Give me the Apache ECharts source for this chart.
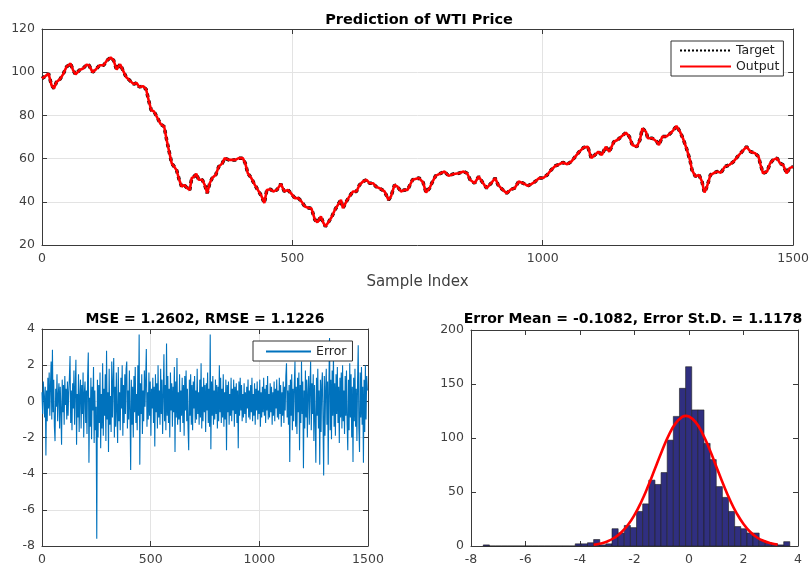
<!DOCTYPE html>
<html><head><meta charset="utf-8">
<script src="https://cdn.jsdelivr.net/npm/echarts/dist/echarts.min.js"></script>
<style>html,body{margin:0;padding:0;background:#fff}#c{width:812px;height:568px}</style>
</head><body><div id="c"></div><script>
// ---- Top panel: WTI price (sample index, value) ----
const priceIdx = [0,6,13,16,19,24,29,36,42,49,57,62,67,75,82,89,94,101,108,115,123,130,137,143,149,156,161,168,176,183,189,194,202,208,213,218,224,231,237,244,249,254,259,264,269,274,279,284,290,295,299,304,308,313,320,325,330,335,340,347,353,360,365,373,380,386,393,401,406,411,418,425,431,438,444,449,456,462,469,477,484,491,497,505,512,518,525,533,538,545,550,557,562,566,573,579,585,591,597,601,608,614,621,628,634,641,648,654,661,667,674,684,692,697,704,710,717,724,730,740,753,761,767,774,779,786,796,804,812,822,832,842,849,855,864,872,880,888,897,905,911,919,928,937,944,952,961,970,978,985,993,1001,1009,1017,1025,1034,1040,1049,1057,1065,1073,1082,1090,1097,1104,1111,1118,1126,1133,1142,1149,1157,1166,1173,1179,1188,1194,1199,1206,1210,1219,1228,1232,1239,1247,1255,1261,1267,1274,1280,1287,1294,1298,1305,1312,1318,1323,1328,1335,1341,1348,1356,1364,1373,1381,1389,1398,1407,1415,1424,1431,1435,1440,1448,1454,1460,1468,1474,1480,1487,1493,1500];
const priceVal = [97.1,98,99.4,99,94,92.5,95.5,96.8,99,102.5,104,101,99,101,101.7,103.5,103.2,100,101.4,103.2,103.2,105.5,106.8,105.5,101.2,103.7,101.2,97.8,96,94.5,95,93.2,93.5,92,87,82.5,81.7,78.6,76,74.8,68.6,63.2,57.8,56.3,54.5,50.2,47,47.8,46.3,45.5,51,51.7,53,50.2,50.2,47.8,44,48.6,51,52.5,56.3,57.8,60.2,59.4,59.4,59.4,60.2,60.2,57.8,53.2,51,47.8,45.5,42.8,39.4,45.5,45.8,44.8,45.5,48.3,44.8,45.5,44,41.7,41.7,40.2,37.8,37.1,37,31.7,30.5,33.2,30.2,28.6,30.9,33.2,36.3,38.6,40.9,37,40.2,42.5,44.8,44.8,47.8,49.4,50.2,48.6,48.6,47,46.3,44.8,40.9,42.5,47.8,47,44.8,45.5,45.5,50.2,51,49,44.3,46.3,48.9,52,53.2,54,52,52.9,53.2,54,53.2,50.2,48.6,51.7,48.9,46.3,48.6,51,47.8,45.8,44,45.8,46.3,49.4,48.6,47.4,48.3,49.4,51,51,52.5,54.8,56.6,57.5,58.2,57.4,58.6,60.9,63.2,65.2,65.5,60.2,61.7,63.2,61.7,65.5,63.2,67.8,68.6,70.2,72,70.2,66.3,65.5,68.6,74,72.5,69.4,69.4,67.8,66.3,70.2,70.2,71.7,73.2,75.1,72.5,69.4,64.8,59.4,54.8,51.7,52.5,49.4,44.3,47,52.5,53.2,54,53.5,56.3,57.1,58.6,60.9,63.2,65.5,63.2,62.5,60.9,57.1,53.2,54,57.8,59.4,60.2,57.8,57.1,53.2,55.6,56.3];

// ---- Bottom-left: prediction error, one value every errStep samples ----
const errStep = 3;
const errVal = [
0.5,-0.7,1.1,0.3,-0.9,0.8,-3.0,0.6,-1.1,1.3,
-0.4,1.6,-0.8,0.9,2.2,-1.0,2.85,-0.6,1.2,-1.4,
-2.2,0.7,-0.3,1.5,-1.1,0.4,1.0,-1.5,0.8,-0.5,
-2.4,1.2,-0.6,0.9,-1.3,1.4,-0.2,0.7,-1.0,1.1,
-0.8,0.5,1.3,2.5,-1.2,0.6,-1.6,1.0,-0.4,1.7,
-1.3,0.8,2.3,-2.4,0.4,-0.9,1.5,-1.7,0.3,1.2,
-1.5,0.9,-0.7,1.6,-2.0,0.5,1.1,-1.2,0.6,-1.8,
1.4,2.7,-3.4,0.2,-1.4,1.3,-2.1,0.8,-0.5,1.9,
-2.3,0.6,-1.6,-0.3,-7.6,1.2,-2.0,0.9,-1.2,1.6,
-2.6,0.4,-1.5,2.1,-1.9,0.7,-0.8,1.5,-2.2,2.8,
-1.0,0.5,-2.8,1.8,-1.3,0.3,-1.7,2.2,-0.9,1.1,
2.4,-2.0,0.8,-1.4,1.6,-0.6,-2.3,1.9,-1.1,0.5,
-1.6,1.3,-0.4,2.0,-1.9,0.9,-1.2,1.5,-0.7,1.8,
2.2,-1.5,0.6,-1.0,1.7,-0.5,-3.8,1.2,-1.3,0.8,
-2.0,1.4,-0.6,1.9,-1.2,0.4,-1.6,2.0,-0.8,3.7,
-3.5,1.0,-0.7,1.5,-1.8,0.6,-1.1,1.7,-0.3,1.2,
2.9,-1.4,0.5,-1.0,1.6,-0.8,1.1,-1.9,0.7,-0.4,
1.3,-1.2,0.8,-2.5,1.5,-0.6,1.0,-1.5,2.0,-0.9,
0.6,-1.3,1.8,-0.7,1.2,-1.8,0.4,2.6,-1.1,0.9,
-1.6,3.2,-0.8,1.4,-1.2,0.7,-2.0,1.6,-0.5,1.0,
-1.4,0.8,-0.6,1.9,-2.8,1.1,-0.9,2.4,-1.3,0.5,
-1.0,1.5,-1.7,0.6,-0.8,1.3,-1.2,0.9,-1.9,1.4,
-0.5,1.7,-1.1,0.7,-1.5,-2.7,1.2,-0.8,1.5,-1.3,
0.9,-1.6,1.1,-0.4,1.4,-1.2,0.6,-1.0,1.8,-0.7,
0.5,-1.3,1.2,-0.9,2.1,-1.5,0.8,-1.1,1.3,-0.6,
0.9,-1.7,1.0,-0.5,1.6,-1.2,0.7,-1.4,3.7,-2.65,
1.1,-0.8,1.4,-1.3,0.6,-1.0,1.2,-0.7,0.9,-1.5,
0.8,-1.1,2.0,-0.6,1.3,-1.2,0.7,-0.9,1.5,-1.4,
0.5,-1.0,1.2,-2.7,0.9,-0.6,1.1,-1.3,0.4,-0.8,
1.3,-1.1,0.7,-0.5,1.2,-1.4,0.8,-0.7,1.0,-1.2,
0.6,-2.6,1.1,-0.8,1.3,-0.5,0.9,-1.1,0.4,-0.9,
1.0,-0.7,0.5,-1.2,0.8,-0.4,1.2,-0.9,0.6,-1.0,
0.9,-0.6,1.3,-1.1,0.4,-0.8,1.0,-1.3,0.7,-0.5,
1.1,-1.0,0.6,-0.7,1.2,-1.4,0.5,-0.9,0.8,-0.6,
1.3,-0.8,0.7,-1.2,0.9,-0.5,1.4,-1.0,0.4,-0.9,
1.0,-0.6,0.8,-1.3,0.5,-0.8,1.1,-1.1,0.7,-0.4,
1.2,-0.9,0.6,-1.0,1.3,-0.7,0.9,-1.4,0.5,-0.8,
1.1,-1.2,0.8,-0.5,1.4,2.1,-0.9,0.6,-1.3,0.9,
-3.35,1.2,-0.8,1.5,-1.6,0.7,-1.1,1.0,2.2,-1.4,
0.8,-1.8,1.3,-0.6,1.6,-2.7,0.9,-1.2,2.2,-0.7,
1.1,-3.7,0.6,-1.5,1.7,-0.9,1.2,-2.0,0.5,1.4,
-1.3,0.8,2.2,-1.6,1.0,-0.7,1.5,-2.2,0.9,-1.0,
-3.4,1.3,-0.8,1.8,-1.5,0.6,-3.5,1.2,-1.7,0.9,
1.6,-1.1,-4.1,1.4,-1.9,0.7,1.8,-1.3,1.1,-3.5,
0.9,3.5,-1.6,1.2,-2.1,1.7,-0.8,2.5,-1.4,1.0,
-1.9,1.5,-0.7,1.9,-1.2,0.8,-2.3,1.3,-0.9,1.6,
-1.5,2.0,-1.1,0.6,-1.8,1.4,-0.8,1.7,-1.3,-2.7,
1.2,-1.6,2.1,-0.9,1.5,-2.0,0.8,-3.35,1.3,-1.1,
1.8,-1.4,0.7,-2.2,1.1,3.1,-1.5,-2.8,1.6,-0.9,
1.9,-1.3,0.8,-3.4,1.2,-1.7,2.0,-1.0,1.4,0.6];

// ---- Bottom-right: error histogram (50 bins) and fitted normal curve ----
const histStart = -7.55;
const histBinWidth = 0.225;
const histCounts = [1,0,0,0,0,0,0,0,0,0,0,0,0,0,0,2,2,3,6,1,2,16,12,19,17,32,39,61,57,68,98,120,146,166,126,126,95,80,55,45,32,18,16,12,12,5,3,2,1,4];
const fitX = [-3.5,-3.25,-3,-2.75,-2.5,-2.25,-2,-1.75,-1.5,-1.25,-1,-0.75,-0.5,-0.25,-0.108,0,0.25,0.5,0.75,1,1.25,1.5,1.75,2,2.25,2.5,2.75,3,3.25];
const fitY = [1.2,2.3,4.2,7.4,12.2,19.2,28.8,41.0,55.5,71.5,87.6,102.2,113.3,119.5,120.5,119.9,114.5,103.9,89.8,73.7,57.6,42.8,30.3,20.4,13.0,7.9,4.6,2.5,1.3];

const titles = ['Prediction of WTI Price', 'MSE = 1.2602, RMSE = 1.1226', 'Error Mean = -0.1082, Error St.D. = 1.1178'];

const FONT = 'DejaVu Sans';
const AX = '#3a3a3a';
const LBL = '#404040';
const GRIDC = '#e3e3e3';
const plainFmt = v => String(v);

function mainX(gi, min, max, itv, split) {
  return {type:'value', gridIndex:gi, min, max, interval:itv, position:'bottom',
    axisLine:{show:true, onZero:false, lineStyle:{color:AX, width:1}},
    axisTick:{show:true, inside:true, length:5, lineStyle:{color:AX}},
    axisLabel:{show:true, color:LBL, fontFamily:FONT, fontSize:12.5, margin:7, formatter:plainFmt},
    splitLine:{show:split, lineStyle:{color:GRIDC, width:1}}};
}
function mirrorX(gi, min, max, itv) {
  return {type:'value', gridIndex:gi, min, max, interval:itv, position:'top',
    axisLine:{show:true, onZero:false, lineStyle:{color:AX, width:1}},
    axisTick:{show:true, inside:true, length:5, lineStyle:{color:AX}},
    axisLabel:{show:false}, splitLine:{show:false}};
}
function mainY(gi, min, max, itv, split) {
  return {type:'value', gridIndex:gi, min, max, interval:itv, position:'left',
    axisLine:{show:true, onZero:false, lineStyle:{color:AX, width:1}},
    axisTick:{show:true, inside:true, length:5, lineStyle:{color:AX}},
    axisLabel:{show:true, color:LBL, fontFamily:FONT, fontSize:12.5, margin:7, formatter:plainFmt},
    splitLine:{show:split, lineStyle:{color:GRIDC, width:1}}};
}
function mirrorY(gi, min, max, itv) {
  return {type:'value', gridIndex:gi, min, max, interval:itv, position:'right',
    axisLine:{show:true, onZero:false, lineStyle:{color:AX, width:1}},
    axisTick:{show:true, inside:true, length:5, lineStyle:{color:AX}},
    axisLabel:{show:false}, splitLine:{show:false}};
}

const priceData = priceIdx.map((x, i) => [x, priceVal[i]]);
const errData = errVal.map((v, k) => [k * errStep, v]);
const histData = histCounts.map((c, i) => [histStart + i * histBinWidth, histStart + (i + 1) * histBinWidth, c]);
const fitData = fitX.map((x, i) => [x, fitY[i]]);

const topX = mainX(0, 0, 1500, 500, true);
topX.name = 'Sample Index';
topX.nameLocation = 'middle';
topX.nameGap = 30;
topX.nameTextStyle = {color:LBL, fontFamily:FONT, fontSize:15};

const hideSym = {opacity:0, color:'rgba(0,0,0,0)', borderWidth:0};

const chart = echarts.init(document.getElementById('c'), null, {renderer:'canvas'});
chart.setOption({
  animation:false,
  backgroundColor:'#fff',
  title:[
    {text:titles[0], left:414, top:8, textAlign:'center', textStyle:{fontFamily:FONT, fontWeight:'bold', fontSize:14.5, color:'#000'}},
    {text:titles[1], left:200, top:307, textAlign:'center', textStyle:{fontFamily:FONT, fontWeight:'bold', fontSize:14, color:'#000'}},
    {text:titles[2], left:628, top:307, textAlign:'center', textStyle:{fontFamily:FONT, fontWeight:'bold', fontSize:14, color:'#000'}}
  ],
  grid:[
    {left:42, top:29, width:755, height:216},
    {left:42, top:329, width:326, height:217},
    {left:471, top:330, width:327, height:216}
  ],
  xAxis:[topX, mirrorX(0,0,1500,500), mainX(1,0,1500,500,true), mirrorX(1,0,1500,500), mainX(2,-8,4,2,false), mirrorX(2,-8,4,2)],
  yAxis:[mainY(0,20,120,20,true), mirrorY(0,20,120,20), mainY(1,-8,4,2,true), mirrorY(1,-8,4,2), mainY(2,0,200,50,false), mirrorY(2,0,200,50)],
  legend:[
    {data:['Target','Output'], orient:'vertical', left:671, top:41, itemWidth:51, itemHeight:10, itemGap:3,
     padding:[3,4,3,8], backgroundColor:'#fff', borderColor:'#333', borderWidth:1, borderRadius:0,
     itemStyle:hideSym,
     textStyle:{fontFamily:FONT, fontSize:12.5, color:'#222'}},
    {data:['Error'], left:253, top:341, itemWidth:45, itemHeight:10, padding:[4,6,3,12],
     backgroundColor:'#fff', borderColor:'#333', borderWidth:1, borderRadius:0,
     itemStyle:hideSym,
     textStyle:{fontFamily:FONT, fontSize:12.5, color:'#222'}}
  ],
  series:[
    {name:'Target', type:'line', xAxisIndex:0, yAxisIndex:0, data:priceData, showSymbol:false, symbol:'none',
     lineStyle:{color:'#000', width:3.5, type:'dotted'}, itemStyle:{color:'#000'}, z:2},
    {name:'Output', type:'line', xAxisIndex:0, yAxisIndex:0, data:priceData, showSymbol:false, symbol:'none',
     lineStyle:{color:'#ff0000', width:2.6}, itemStyle:{color:'#ff0000'}, z:3},
    {name:'Error', type:'line', xAxisIndex:2, yAxisIndex:2, data:errData, showSymbol:false, symbol:'none',
     lineStyle:{color:'#0072BD', width:1.1}, itemStyle:{color:'#0072BD'}},
    {name:'Hist', type:'custom', xAxisIndex:4, yAxisIndex:4, data:histData, encode:{x:[0,1], y:2},
     renderItem:function(params, api){
       const p0 = api.coord([api.value(0), api.value(2)]);
       const p1 = api.coord([api.value(1), 0]);
       return {type:'rect', shape:{x:p0[0], y:p0[1], width:p1[0]-p0[0], height:p1[1]-p0[1]},
               style:{fill:'#302f80', stroke:'#1e1e1e', lineWidth:0.6}};
     }, z:2},
    {name:'Fit', type:'line', xAxisIndex:4, yAxisIndex:4, data:fitData, smooth:true, showSymbol:false, symbol:'none',
     lineStyle:{color:'#ff0000', width:2.6}, itemStyle:{color:'#ff0000'}, z:3}
  ]
});
</script></body></html>
